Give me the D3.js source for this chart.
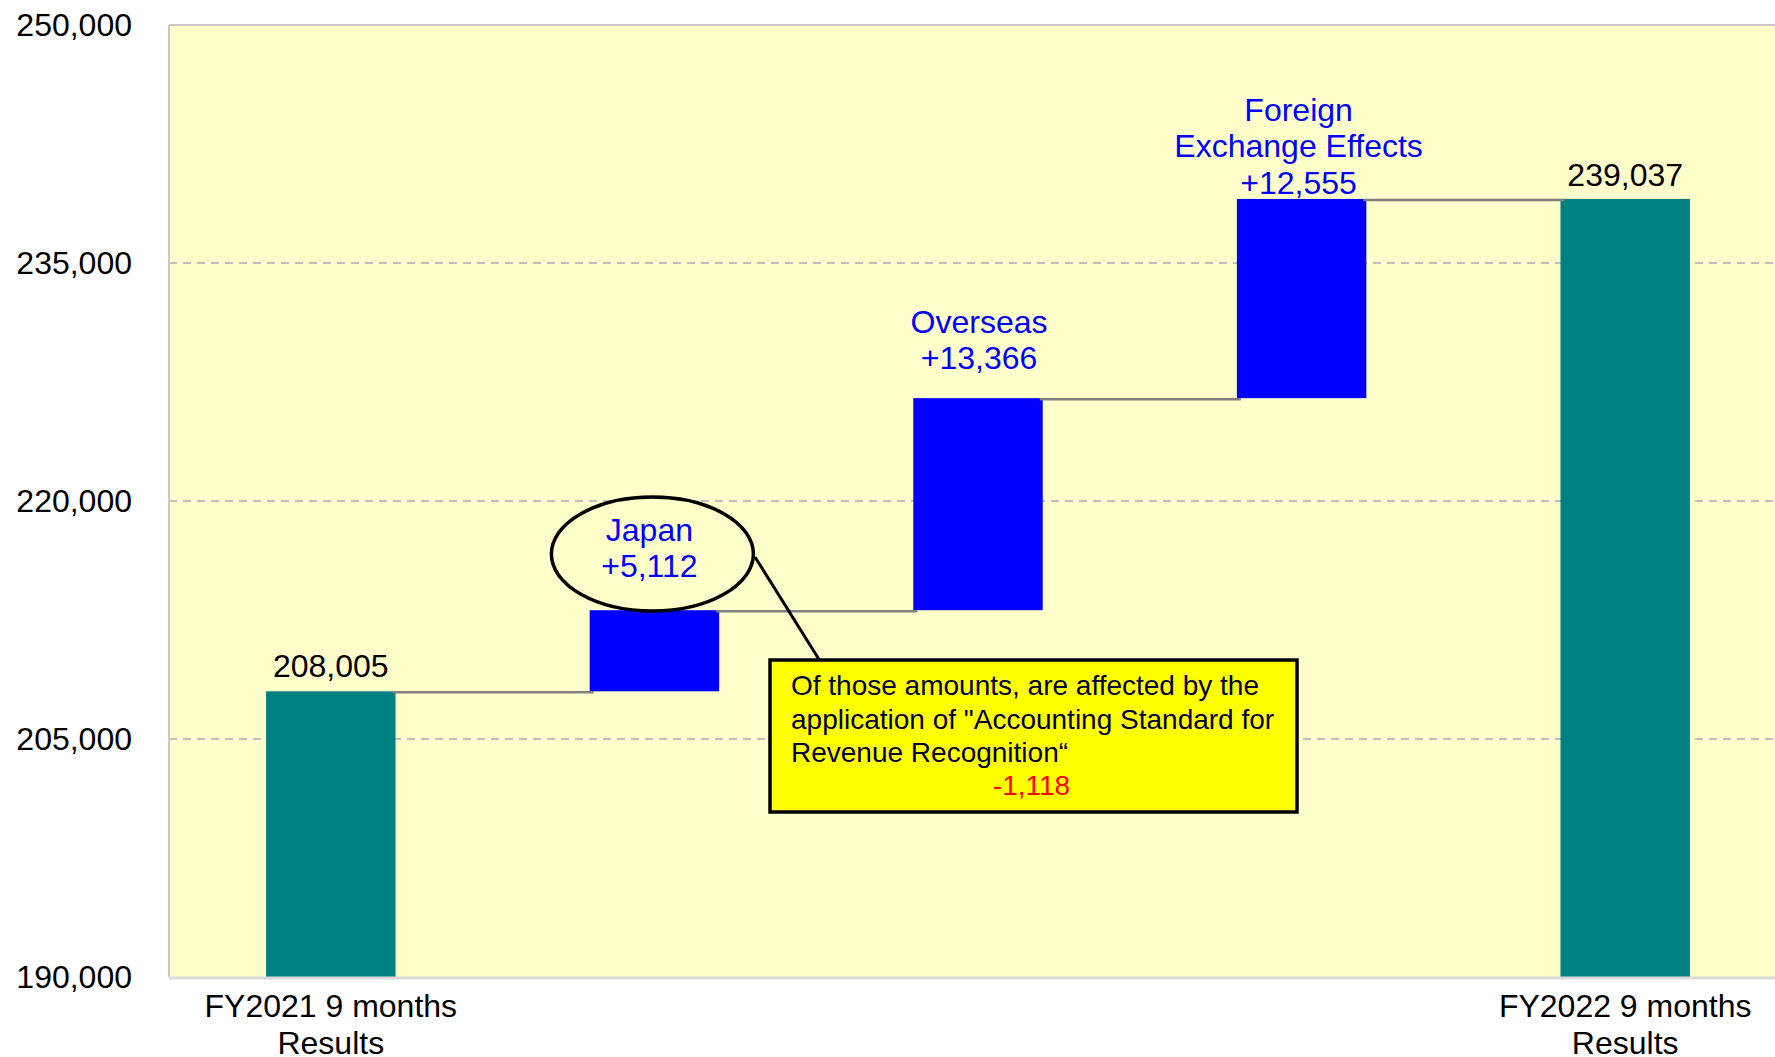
<!DOCTYPE html>
<html>
<head>
<meta charset="utf-8">
<script src="https://cdn.jsdelivr.net/npm/d3@7"></script>
<style>
  html, body { margin: 0; padding: 0; background: #ffffff; }
  svg { display: block; font-family: "Liberation Sans", Arial, sans-serif; }
</style>
</head>
<body>
<svg id="chart" width="1775" height="1057"></svg>
<script>
// Net sales bridge, FY2021 9 months -> FY2022 9 months
const categories = ["FY2021", "Japan", "Overseas", "FX", "FY2022"];
const kinds = ["total", "delta", "delta", "delta", "total"];
const values = [208005, 5112, 13366, 12555, 239037];
const barLabels = [
  ["208,005"],
  ["Japan", "+5,112"],
  ["Overseas", "+13,366"],
  ["Foreign", "Exchange Effects", "+12,555"],
  ["239,037"]
];
const axisLabels = [
  ["FY2021 9 months", "Results"],
  [], [], [],
  ["FY2022 9 months", "Results"]
];
const yTicks = [190000, 205000, 220000, 235000, 250000];
const noteLines = [
  "Of those amounts, are affected by the",
  "application of \"Accounting Standard for",
  "Revenue Recognition\u201c"
];
const noteValue = "-1,118";

// ---- layout ----
const W = 1775, H = 1057;
const plot = { left: 169, top: 25, right: 1787, bottom: 977 };
const font = "'Liberation Sans', Arial, sans-serif";
const fs = 32;

const svg = d3.select("#chart");

const x = d3.scaleBand()
  .domain(categories)
  .range([plot.left, plot.right])
  .paddingInner(0.6)
  .paddingOuter(0.3);

const y = d3.scaleLinear()
  .domain([190000, 250000])
  .range([plot.bottom, plot.top]);

// running totals for the floating bars
let running = 0;
const bars = categories.map((c, i) => {
  let lo, hi;
  if (kinds[i] === "total") { lo = y.domain()[0]; hi = values[i]; running = values[i]; }
  else { lo = running; hi = running + values[i]; running = hi; }
  return { cat: c, kind: kinds[i], lo, hi, level: kinds[i] === "total" ? values[i] : hi };
});

// plot background
svg.append("rect")
  .attr("x", plot.left).attr("y", plot.top)
  .attr("width", plot.right - plot.left).attr("height", plot.bottom - plot.top)
  .attr("fill", "#FFFFCC");

// dashed gridlines
svg.append("g")
  .selectAll("line")
  .data(yTicks.filter(t => t > y.domain()[0] && t < y.domain()[1]))
  .join("line")
  .attr("x1", plot.left).attr("x2", plot.right)
  .attr("y1", d => y(d)).attr("y2", d => y(d))
  .attr("stroke", "#BFBFBF").attr("stroke-width", 2)
  .attr("stroke-dasharray", "8,6");

// plot frame (top, left)
svg.append("line").attr("x1", plot.left).attr("x2", plot.right)
  .attr("y1", plot.top).attr("y2", plot.top)
  .attr("stroke", "#C8C8C8").attr("stroke-width", 2);
svg.append("line").attr("x1", plot.left).attr("x2", plot.left)
  .attr("y1", plot.top).attr("y2", plot.bottom)
  .attr("stroke", "#C8C8C8").attr("stroke-width", 2);

// y axis labels
const yAxis = d3.axisLeft(y)
  .tickValues(yTicks)
  .tickFormat(d3.format(","))
  .tickSize(0)
  .tickPadding(plot.left - 132);
const gy = svg.append("g").attr("transform", `translate(${plot.left},0)`).call(yAxis);
gy.select(".domain").remove();
gy.selectAll("text")
  .attr("font-family", font).attr("font-size", fs).attr("fill", "#000");

// bars
svg.append("g")
  .selectAll("rect")
  .data(bars)
  .join("rect")
  .attr("x", d => x(d.cat))
  .attr("width", x.bandwidth())
  .attr("y", d => y(d.hi))
  .attr("height", d => y(d.lo) - y(d.hi))
  .attr("fill", d => d.kind === "total" ? "#008080" : "#0000FF");

// connectors between consecutive bar levels
svg.append("g")
  .selectAll("line")
  .data(bars.slice(0, -1))
  .join("line")
  .attr("x1", (d, i) => x(categories[i]) + x.bandwidth() - 3)
  .attr("x2", (d, i) => x(categories[i + 1]) + 4)
  .attr("y1", d => y(d.level) + 1)
  .attr("y2", d => y(d.level) + 1)
  .attr("stroke", "#808080").attr("stroke-width", 2.5);

// bottom axis line
svg.append("line").attr("x1", plot.left).attr("x2", plot.right)
  .attr("y1", plot.bottom + 1).attr("y2", plot.bottom + 1)
  .attr("stroke", "#D9D9D9").attr("stroke-width", 3);

// ellipse + leader highlighting the Japan change
const jx = x("Japan") + x.bandwidth() / 2;
svg.append("line")
  .attr("x1", 755).attr("y1", 557).attr("x2", 820).attr("y2", 661)
  .attr("stroke", "#000").attr("stroke-width", 3);
svg.append("ellipse")
  .attr("cx", jx - 2).attr("cy", 554).attr("rx", 101).attr("ry", 57)
  .attr("fill", "#FFFFCC").attr("stroke", "#000").attr("stroke-width", 3.5);

// value labels above bars (last line sits this far above the bar top)
const labelGap = [14, 33, 29, 5, 13];
const labelDx = [0, -5, 1, -3, 0];
const lineH = 36.5;
bars.forEach((d, i) => {
  const lines = barLabels[i];
  const cx = x(d.cat) + x.bandwidth() / 2 + labelDx[i];
  const base = y(d.hi) - labelGap[i];
  svg.append("g").selectAll("text")
    .data(lines)
    .join("text")
    .attr("x", cx)
    .attr("y", (t, k) => base - (lines.length - 1 - k) * lineH)
    .attr("text-anchor", "middle")
    .attr("font-family", font).attr("font-size", fs)
    .attr("fill", d.kind === "total" ? "#000" : "#0000FF")
    .text(t => t);
});

// category labels
categories.forEach((c, i) => {
  const cx = x(c) + x.bandwidth() / 2;
  svg.append("g").selectAll("text")
    .data(axisLabels[i])
    .join("text")
    .attr("x", cx)
    .attr("y", (t, k) => 1017 + k * 37)
    .attr("text-anchor", "middle")
    .attr("font-family", font).attr("font-size", fs).attr("fill", "#000")
    .text(t => t);
});

// note box
const box = { x: 770, y: 660, w: 527, h: 152 };
svg.append("rect")
  .attr("x", box.x).attr("y", box.y).attr("width", box.w).attr("height", box.h)
  .attr("fill", "#FFFF00").attr("stroke", "#000").attr("stroke-width", 3.5);
svg.append("g").selectAll("text")
  .data(noteLines)
  .join("text")
  .attr("x", box.x + 21)
  .attr("y", (t, k) => box.y + 35 + k * 33.5)
  .attr("font-family", font).attr("font-size", 28).attr("fill", "#000033")
  .text(t => t);
svg.append("text")
  .attr("x", box.x + box.w / 2 - 2)
  .attr("y", box.y + 135)
  .attr("text-anchor", "middle")
  .attr("font-family", font).attr("font-size", 28).attr("fill", "#FF0000")
  .text(noteValue);
</script>
</body>
</html>
